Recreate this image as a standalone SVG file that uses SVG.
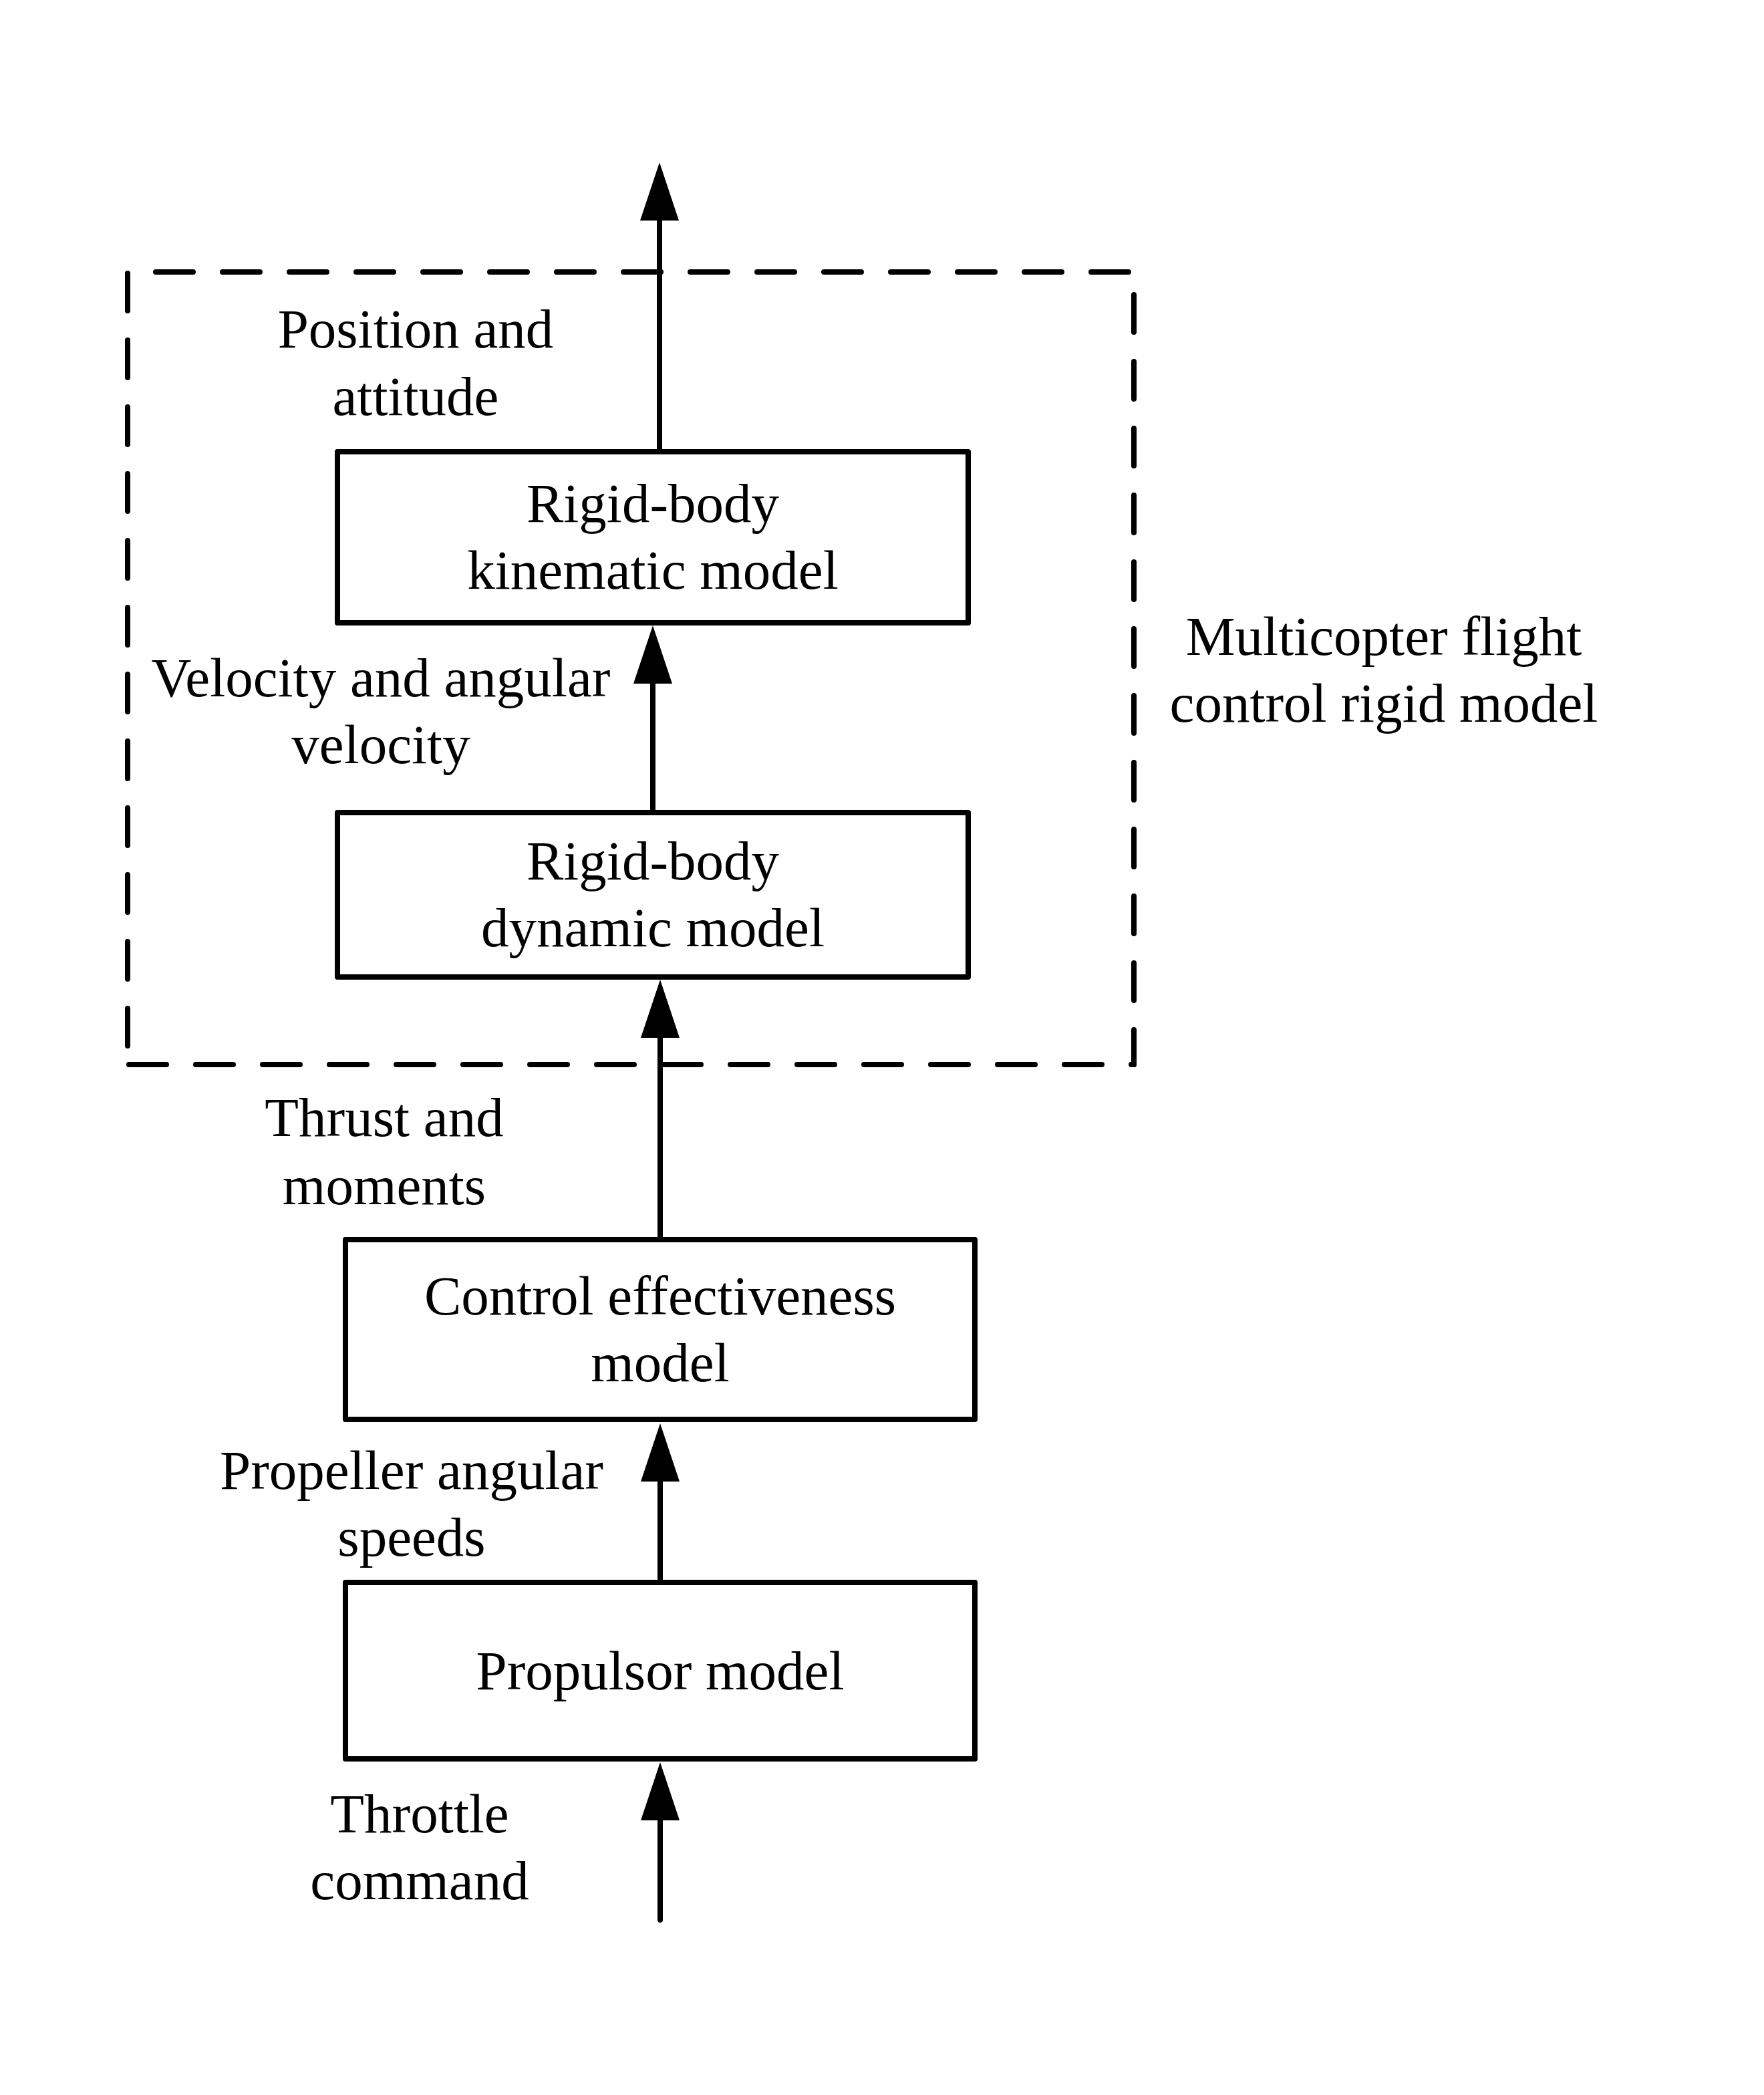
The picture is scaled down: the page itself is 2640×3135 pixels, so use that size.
<svg xmlns="http://www.w3.org/2000/svg" width="2640" height="3135" viewBox="0 0 2640 3135">
<style>
text{font-family:"Liberation Serif","Times New Roman",serif;font-size:83px;fill:#000;text-anchor:middle}
.box{fill:#fff;stroke:#000;stroke-width:8;stroke-linejoin:round}
.dash{fill:none;stroke:#000;stroke-width:8;stroke-linecap:round;stroke-dasharray:56 44}
.conn{fill:none;stroke:#000;stroke-width:8;stroke-linecap:round;marker-end:url(#ah)}
</style>
<defs>
<marker id="ah" markerUnits="userSpaceOnUse" viewBox="0 -29 87 58" refX="0" refY="0" markerWidth="87" markerHeight="58" orient="auto" overflow="visible">
<path d="M0,-29 L87,0 L0,29 Z" fill="#000"/>
</marker>
</defs>
<rect width="2640" height="3135" fill="#fff"/>
<g id="group-boundary">
<line class="dash" x1="233" y1="407" x2="1697" y2="407"/>
<line class="dash" x1="1697" y1="441" x2="1697" y2="1593"/>
<line class="dash" x1="1697" y1="1593" x2="191" y2="1593" stroke-dashoffset="52"/>
<line class="dash" x1="191" y1="409" x2="191" y2="1593"/>
</g>
<g id="connectors">
<line class="conn" x1="987" y1="676" x2="987" y2="330"/>
<line class="conn" x1="977" y1="1216" x2="977" y2="1023"/>
<line class="conn" x1="988" y1="1855" x2="988" y2="1553"/>
<line class="conn" x1="988" y1="2368" x2="988" y2="2217"/>
<line class="conn" x1="988" y1="2873" x2="988" y2="2724"/>
</g>
<g id="node-kinematic">
<rect class="box" x="505" y="676" width="944" height="256"/>
<text x="977" y="781">Rigid-body</text>
<text x="977" y="881">kinematic model</text>
</g>
<g id="node-dynamic">
<rect class="box" x="505" y="1216" width="944" height="246"/>
<text x="977" y="1316">Rigid-body</text>
<text x="977" y="1416">dynamic model</text>
</g>
<g id="node-control">
<rect class="box" x="517" y="1855" width="942" height="269"/>
<text x="988" y="1967">Control effectiveness</text>
<text x="988" y="2067">model</text>
</g>
<g id="node-propulsor">
<rect class="box" x="517" y="2368" width="942" height="264"/>
<text x="988" y="2528">Propulsor model</text>
</g>
<g id="labels">
<text x="622" y="520">Position and</text>
<text x="622" y="621">attitude</text>
<text x="570" y="1042">Velocity and angular</text>
<text x="570" y="1142">velocity</text>
<text x="575" y="1700">Thrust and</text>
<text x="575" y="1802">moments</text>
<text x="616" y="2228">Propeller angular</text>
<text x="616" y="2328">speeds</text>
<text x="628" y="2742">Throttle</text>
<text x="628" y="2842">command</text>
<text x="2071" y="980">Multicopter flight</text>
<text x="2071" y="1080">control rigid model</text>
</g>
</svg>
